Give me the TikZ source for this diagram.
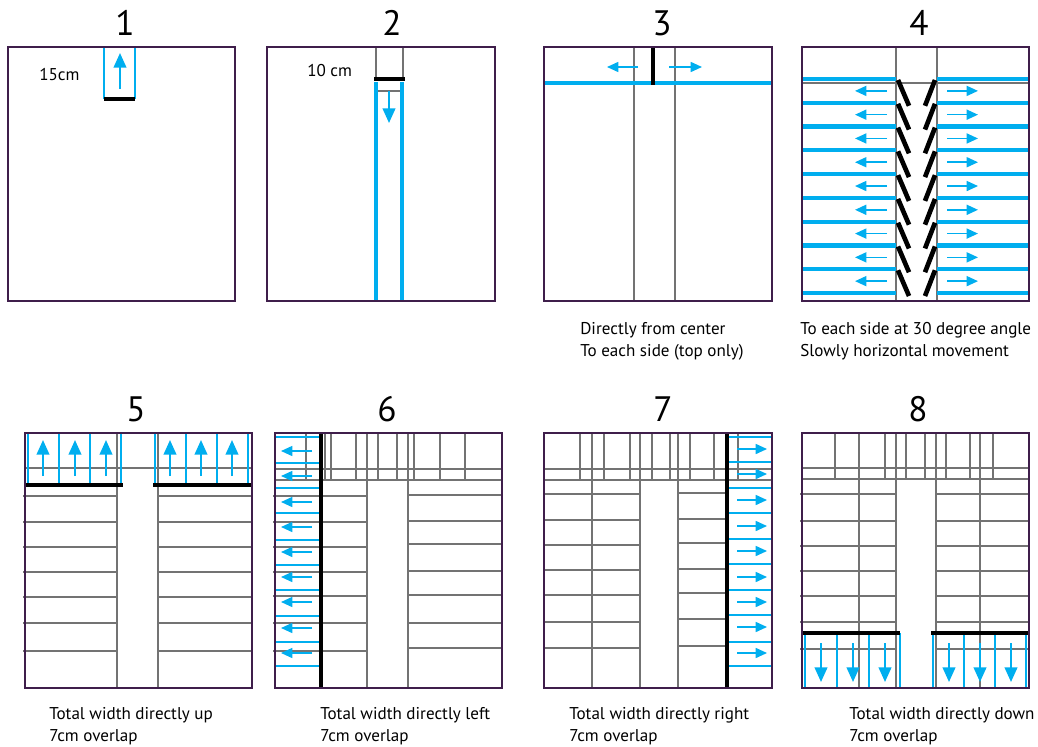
\documentclass[tikz,border=0pt]{standalone}
\usepackage{fontspec}
\setmainfont{PT Sans}
\usetikzlibrary{arrows.meta}
\definecolor{boxc}{HTML}{3F1E4B}
\definecolor{cy}{HTML}{00AEEF}
\definecolor{gr}{HTML}{737373}
\tikzset{
  frame/.style={draw=boxc, line width=1.7pt},
  grl/.style={draw=gr, line width=1.45pt},
  cyth/.style={draw=cy, line width=3.1pt},
  cymid/.style={draw=cy, line width=2.2pt},
  blk/.style={draw=black, line width=3.6pt},
  blkbar/.style={draw=black, line width=3.5pt},
  carrow/.style={draw=cy, line width=1.2pt, -{Triangle[length=8.5pt,width=7.5pt]}},
  carrowb/.style={draw=cy, line width=1.5pt, -{Triangle[length=11pt,width=9.5pt]}},
  title/.style={font=\fontsize{26.5}{30}\selectfont, anchor=base, inner sep=0pt},
  lbl/.style={font=\fontsize{12.8}{14}\selectfont, anchor=base west, inner sep=0pt},
}
\begin{document}
\begin{tikzpicture}[x=0.75pt,y=-0.75pt]
\useasboundingbox (0,0) rectangle (1038,746);

% ---------- Panel 1
\draw[cymid] (104,47)--(104,99) (135,47)--(135,99);
\draw[blk] (104,99)--(135,99);
\draw[carrowb] (120,89)--(120,53);
\node[lbl] (l1) at (39,80) {15cm};
\draw[frame] (8,47) rectangle (235,301);
\node[title] (t1) at (125,35) {1};

% ---------- Panel 2
\draw[grl] (376,47)--(376,79) (403,47)--(403,79) (376,91)--(402,91);
\draw[cyth] (376,82)--(376,301) (402,82)--(402,301);
\draw[blk] (374,79)--(405,79);
\draw[carrowb] (389,91)--(389,123);
\node[lbl] (l2) at (307,76) {10 cm};
\draw[frame] (267,47) rectangle (495,301);
\node[title] (t2) at (392,35) {2};

% ---------- Panel 3
\draw[grl] (634,47)--(634,301) (675,47)--(675,301);
\draw[cyth] (544,83)--(772,83);
\draw[blk] (653,47)--(653,85);
\draw[carrow] (638,67)--(607,67);
\draw[carrow] (669,67)--(702,67);
\draw[frame] (544,47) rectangle (772,301);
\node[title] (t3) at (662,35) {3};
\node[lbl] (c3a) at (580,334) {Directly from center};
\node[lbl] (c3b) at (580,356) {To each side (top only)};

% ---------- Panel 4
\draw[grl] (896,47)--(896,301) (937,47)--(937,301) (802,83)--(1029,83);
\foreach \i in {0,...,9}{
  \pgfmathsetmacro\yy{79+\i*23.78}
  \draw[cyth] (802,\yy)--(896,\yy) (937,\yy)--(1029,\yy);
}
\foreach \i in {0,...,8}{
  \pgfmathsetmacro\ya{79+\i*23.78+1}
  \pgfmathsetmacro\yb{79+(\i+1)*23.78+3}
  \pgfmathsetmacro\ym{79+\i*23.78+11.9}
  \draw[blkbar] (898,\ya)--(909,\yb);
  \draw[blkbar] (935,\ya)--(925,\yb);
  \draw[carrow] (887,\ym)--(855,\ym);
  \draw[carrow] (947,\ym)--(978,\ym);
}
\draw[frame] (802,47) rectangle (1029,301);
\node[title] (t4) at (919,35) {4};
\node[lbl] (c4a) at (800,334) {To each side at 30 degree angle};
\node[lbl] (c4b) at (800,356) {Slowly horizontal movement};

% ---------- Panel 5
\draw[grl] (117,433)--(117,688) (158,433)--(158,688) (25,468)--(252,468);
\foreach \y in {496,522,547,572,597,623,651}
  \draw[grl] (23,\y)--(117,\y) (158,\y)--(252,\y);
\foreach \x in {28,59,90,121,155,186,217,248}
  \draw[cymid] (\x,433)--(\x,485);
\draw[blk] (25,485)--(123,485) (153,485)--(252,485);
\foreach \x in {43,75,106,170,201,232}
  \draw[carrowb] (\x,476)--(\x,440);
\draw[frame] (25,433) rectangle (252,688);
\node[title] (t5) at (136,421) {5};
\node[lbl] (c5a) at (49,719) {Total width directly up};
\node[lbl] (c5b) at (49,741) {7cm overlap};

% ---------- Panel 6
\foreach \x in {306,325,331,356,378,397,414,440,465}
  \draw[grl] (\x,433)--(\x,480);
\draw[grl] (367,433)--(367,688) (408,433)--(408,688);
\draw[grl] (275,469)--(502,469) (275,480)--(502,480);
\foreach \y in {496,522,547,572,596,623,651}
  \draw[grl] (273,\y)--(367,\y);
\foreach \y in {495,521,544,571,595,623,648}
  \draw[grl] (408,\y)--(502,\y);
\foreach \y in {437,463,488,513,540,565,590,616,642,666}
  \draw[cymid] (275,\y)--(321,\y);
\foreach \y in {451,476,502,527,552,577,602,628,653}
  \draw[carrow] (312,\y)--(281,\y);
\draw[blk] (321,433)--(321,688);
\draw[frame] (275,433) rectangle (502,688);
\node[title] (t6) at (387,421) {6};
\node[lbl] (c6a) at (320,719) {Total width directly left};
\node[lbl] (c6b) at (320,741) {7cm overlap};

% ---------- Panel 7
\foreach \x in {580,604,630,652,670,690,714,738}
  \draw[grl] (\x,433)--(\x,480);
\draw[grl] (592,433)--(592,688) (640,433)--(640,688) (678,433)--(678,688);
\draw[grl] (544,469)--(772,469) (544,480)--(772,480);
\foreach \y in {494,520,545,570,595,622,648}
  \draw[grl] (544,\y)--(640,\y);
\foreach \y in {493,519,543,569,593,619,646}
  \draw[grl] (678,\y)--(727,\y);
\foreach \y in {437,462,488,513,539,564,590,615,642,666}
  \draw[cymid] (727,\y)--(772,\y);
\foreach \y in {449,474,500,526,551,577,602,627,653}
  \draw[carrow] (737,\y)--(767,\y);
\draw[blk] (727,433)--(727,688);
\draw[frame] (544,433) rectangle (772,688);
\node[title] (t7) at (663,421) {7};
\node[lbl] (c7a) at (569,719) {Total width directly right};
\node[lbl] (c7b) at (569,741) {7cm overlap};

% ---------- Panel 8
\foreach \x in {835,885,906,925,946,970,993}
  \draw[grl] (\x,433)--(\x,479);
\draw[grl] (859,433)--(859,688) (896,433)--(896,688) (936,433)--(936,688) (980,433)--(980,688);
\draw[grl] (802,468)--(1029,468) (802,479)--(1029,479);
\foreach \y in {494,521,546,571,596,622,649}
  \draw[grl] (800,\y)--(896,\y) (936,\y)--(1029,\y);
\foreach \x in {805,837,869,900,933,964,995,1026}
  \draw[cymid] (\x,633)--(\x,688);
\draw[blk] (803,633)--(900,633) (931,633)--(1029,633);
\foreach \x in {821,853,885,949,980,1011}
  \draw[carrowb] (\x,643)--(\x,682);
\draw[frame] (802,433) rectangle (1029,688);
\node[title] (t8) at (918,421) {8};
\node[lbl] (c8a) at (849,719) {Total width directly down};
\node[lbl] (c8b) at (849,741) {7cm overlap};
\end{tikzpicture}
\end{document}
